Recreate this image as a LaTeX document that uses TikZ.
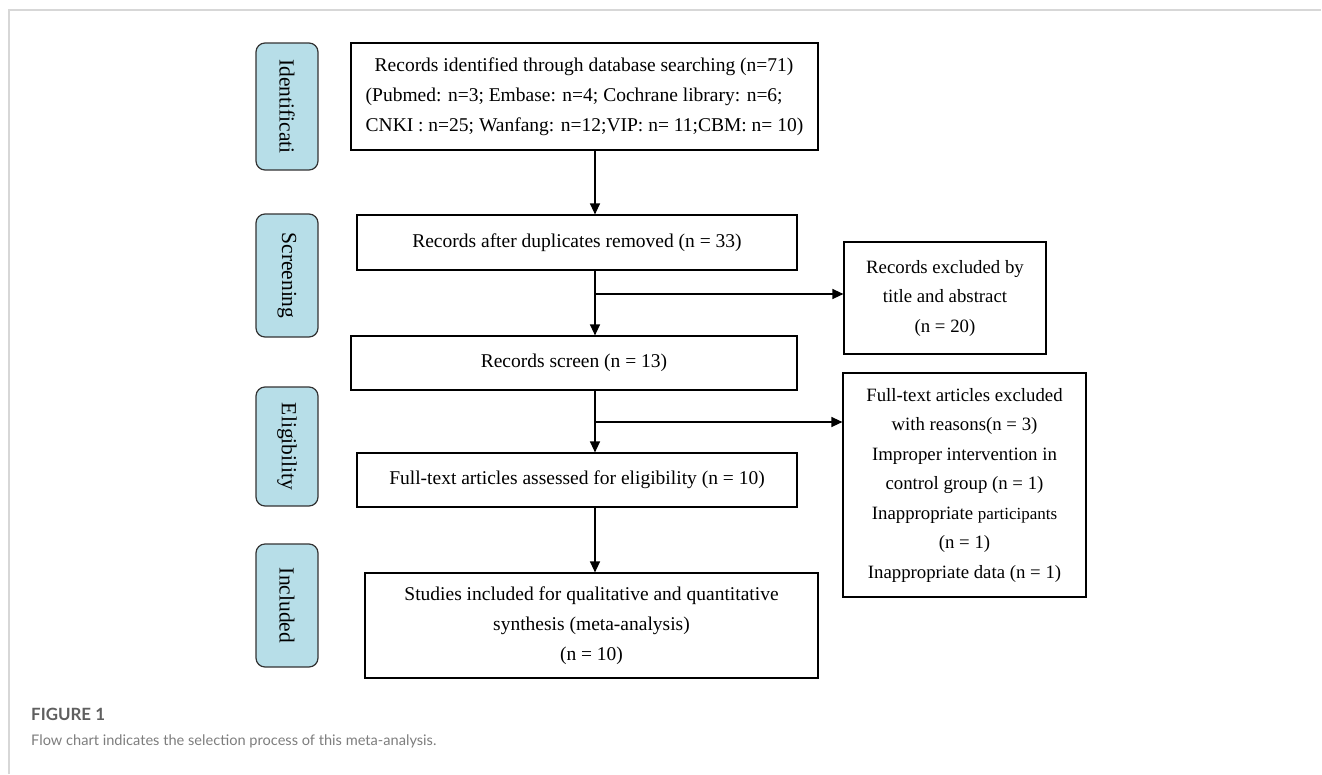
\documentclass[tikz,border=0pt]{standalone}
\usepackage{fontspec}
\setmainfont{Liberation Serif}
\newfontfamily\capfont{Lato}
\usetikzlibrary{arrows.meta}
\definecolor{phaseBlue}{RGB}{183,222,232}
\definecolor{frameGray}{RGB}{215,215,215}
\definecolor{capDark}{RGB}{95,95,95}
\definecolor{capLight}{RGB}{125,125,125}

\begin{document}
\begin{tikzpicture}[x=1pt,y=-1pt,
  flowbox/.style={rectangle,draw=black,line width=1.2pt,fill=white,align=center,inner sep=0pt,
                  font=\fontsize{19.5}{30}\selectfont},
  sidebox/.style={flowbox,font=\fontsize{18.8}{29.5}\selectfont},
  phase/.style={rectangle,rounded corners=9pt,draw=black!80,line width=1.2pt,fill=phaseBlue,
                rotate=-90,minimum height=62pt,inner sep=0pt,font=\fontsize{21.5}{24}\selectfont},
  arrow/.style={-{Triangle[length=11pt,width=10pt]},line width=1.3pt}
]
  \useasboundingbox (0,0) rectangle (1322,774);
  \draw[frameGray,line width=1.5pt] (9,774) -- (9,10) -- (1321,10);

  % phases
  \node[phase,minimum width=127pt](pid) at (287,106.5) {Identificati};
  \node[phase,minimum width=123pt](psc) at (287,275.5) {Screening};
  \node[phase,minimum width=119pt](pel) at (287,446.5) {Eligibility};
  \node[phase,minimum width=123pt](pin) at (287,605.5) {Included};

  % main column
  \node[flowbox,minimum width=467pt,minimum height=107pt,align=left](idbox) at (584.5,96.5)
    {\hspace*{9pt}Records identified through database searching (n=71)\\
     (Pubmed: n=3; Embase: n=4; Cochrane library: n=6;\\
     CNKI : n=25; Wanfang: n=12;VIP: n= 11;CBM: n= 10)};
  \node[flowbox,minimum width=440pt,minimum height=55pt](dupbox) at (577,242.5)
    {Records after duplicates removed (n = 33)};
  \node[flowbox,minimum width=446pt,minimum height=54pt](scrbox) at (574,363)
    {Records screen (n = 13)};
  \node[flowbox,minimum width=440pt,minimum height=54pt](elibox) at (577,480)
    {Full-text articles assessed for eligibility (n = 10)};
  \node[flowbox,minimum width=453pt,minimum height=105pt](incbox) at (591.5,625.5)
    {Studies included for qualitative and quantitative\\
     synthesis (meta-analysis)\\
     (n = 10)};

  % exclusions
  \node[sidebox,minimum width=202pt,minimum height=112pt](exabs) at (945,298)
    {Records excluded by\\ title and abstract\\ (n = 20)};
  \node[sidebox,minimum width=243pt,minimum height=224pt](exfull) at (964.5,485)
    {Full-text articles excluded\\ with reasons(n = 3)\\ Improper intervention in\\
     control group (n = 1)\\ Inappropriate {\fontsize{17}{29.5}\selectfont participants}\\
     (n = 1)\\ Inappropriate data (n = 1)};

  % connectors
  \coordinate (spine) at (595,0);
  \coordinate (b1) at (595,294);
  \coordinate (b2) at (595,422);
  \draw[arrow](idbox.south -| spine)--(dupbox.north -| spine);
  \draw[arrow](dupbox.south -| spine)--(scrbox.north -| spine);
  \draw[arrow](scrbox.south -| spine)--(elibox.north -| spine);
  \draw[arrow](elibox.south -| spine)--(incbox.north -| spine);
  \draw[arrow](b1)--(b1 -| exabs.west);
  \draw[arrow](b2)--(b2 -| exfull.west);

  % caption
  \node[anchor=west,inner sep=0pt,text=capDark,font=\capfont\bfseries\fontsize{16.9}{19}\selectfont](figlabel) at (31,714) {FIGURE 1};
  \node[anchor=west,inner sep=0pt,text=capLight,font=\capfont\fontsize{14.6}{17}\selectfont](figcap) at (31,741)
    {Flow chart indicates the selection process of this meta-analysis.};
\end{tikzpicture}
\end{document}
